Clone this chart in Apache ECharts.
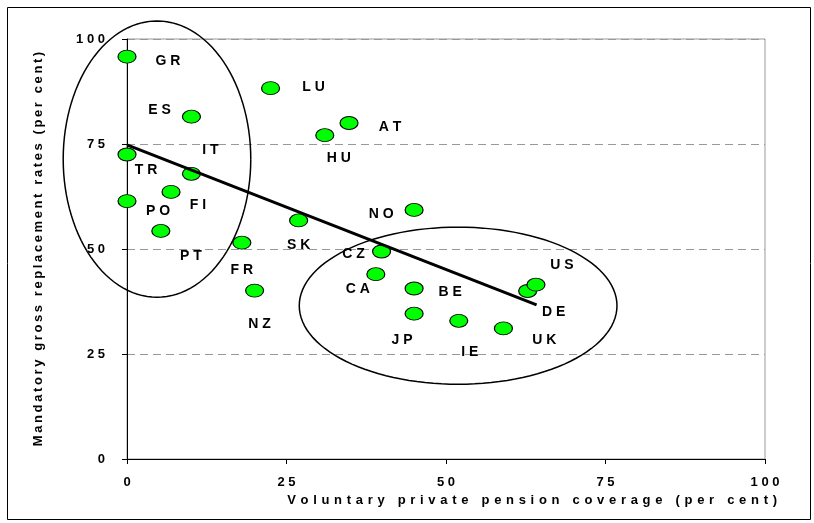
<!DOCTYPE html>
<html>
<head>
<meta charset="utf-8">
<script src="https://cdn.jsdelivr.net/npm/echarts@6/dist/echarts.min.js"></script>
<style>
  html, body { margin: 0; padding: 0; background: #fff; }
  #main { width: 814px; height: 523px; }
</style>
</head>
<body>
<div id="main"></div>
<script>
// data
const countries = ['GR', 'ES', 'LU', 'AT', 'HU', 'TR', 'IT', 'FI', 'PO', 'PT', 'SK', 'NO', 'FR', 'CZ', 'NZ', 'CA', 'BE', 'JP', 'IE', 'UK', 'DE', 'US'];
const coverage = [0, 10.1, 22.5, 34.8, 31.0, 0, 10.1, 6.9, 0, 5.3, 26.9, 45.0, 18.0, 39.9, 20.0, 39.0, 45.0, 45.0, 52.0, 59.0, 62.8, 64.1];
const replacement = [95.8, 81.5, 88.3, 80.0, 77.1, 72.5, 67.9, 63.6, 61.4, 54.3, 56.8, 59.3, 51.5, 49.4, 40.1, 44.0, 40.6, 34.6, 32.9, 31.1, 40.0, 41.5];
const trendX = [0, 64.2];
const trendY = [74.8, 36.7];
const axisTicks = [0, 25, 50, 75, 100];
// the two hand drawn groups: centre x, centre y, radius x, radius y (data units)
const groups = [[4.7, 71.4, 14.7, 32.9], [51.9, 36.5, 24.9, 18.7]];

// label offsets from the marker, px
const labelOffsets = [[41, 5], [-32, -7], [43, -1], [41, 4], [14, 23], [19, 16], [19, -24], [27, 13], [31, 10], [30, 25], [0, 25], [-33, 4], [0, 27], [-28, 3], [5, 34], [-18, 15], [36, 4], [-12, 26], [11, 31], [41, 12], [26, 21], [26, -20]];

const FONT = 'Arial, "Liberation Sans", sans-serif';
const spaced = (s) => String(s).split('').join(' ');
// wide letter spacing, as in the x axis title
const wide = (s) => String(s).split('').join(' \u200A');
// slight letter spacing, as in the y axis title
const thin = (s) => String(s).split('').join('\u2009');

const myChart = echarts.init(document.getElementById('main'), null, { renderer: 'canvas' });

const points = countries.map((c, i) => ({
  name: c,
  value: [coverage[i], replacement[i]],
  label: { offset: labelOffsets[i] },
}));

const option = {
  animation: false,
  backgroundColor: '#fff',
  grid: {
    left: 127,
    top: 39,
    right: 49,
    bottom: 64,
    show: true,
    borderColor: '#999',
    borderWidth: 1,
  },
  xAxis: {
    type: 'value',
    min: axisTicks[0],
    max: axisTicks[axisTicks.length - 1],
    interval: 25,
    axisLine: { lineStyle: { color: '#000', width: 1 } },
    axisTick: { show: true, length: 5, lineStyle: { color: '#000' } },
    splitLine: { show: false },
    axisLabel: {
      margin: 17,
      color: '#000',
      fontFamily: FONT,
      fontWeight: 'bold',
      fontSize: 13,
      formatter: (v) => spaced(v),
    },
  },
  yAxis: {
    type: 'value',
    min: axisTicks[0],
    max: axisTicks[axisTicks.length - 1],
    interval: 25,
    name: thin('Mandatory gross replacement rates (per cent)'),
    nameLocation: 'middle',
    nameRotate: 90,
    nameGap: 82,
    nameTextStyle: { color: '#000', fontFamily: FONT, fontWeight: 'bold', fontSize: 13 },
    axisLine: { lineStyle: { color: '#000', width: 1 } },
    axisTick: { show: true, length: 5, lineStyle: { color: '#000' } },
    splitLine: { show: true, lineStyle: { color: '#999', type: [8, 5], width: 1 } },
    axisLabel: {
      margin: 22,
      color: '#000',
      fontFamily: FONT,
      fontWeight: 'bold',
      fontSize: 13,
      formatter: (v) => spaced(v),
    },
  },
  graphic: [
    {
      type: 'rect',
      left: 5,
      top: 5,
      shape: { width: 803, height: 512 },
      style: { fill: 'none', stroke: '#000', lineWidth: 1 },
      silent: true,
    },
    {
      type: 'text',
      right: 37,
      top: 494,
      style: {
        text: wide('Voluntary private pension coverage (per cent)'),
        font: 'bold 13px ' + FONT,
        fill: '#000',
      },
    },
  ],
  series: [
    {
      type: 'custom',
      z: 1,
      data: groups,
      renderItem: function (params, api) {
        const c = api.coord([api.value(0), api.value(1)]);
        const s = api.size([api.value(2), api.value(3)]);
        const pts = [];
        for (let k = 0; k <= 120; k++) {
          const a = (k / 120) * Math.PI * 2;
          pts.push([c[0] + s[0] * Math.cos(a), c[1] + s[1] * Math.sin(a)]);
        }
        return {
          type: 'polyline',
          shape: { points: pts },
          style: { fill: 'none', stroke: '#000', lineWidth: 1.5 },
        };
      },
    },
    {
      type: 'scatter',
      z: 3,
      symbol: 'circle',
      symbolSize: [18, 13],
      itemStyle: { color: '#00ff00', borderColor: '#000', borderWidth: 1, opacity: 1 },
      label: {
        show: true,
        position: 'inside',
        formatter: (p) => spaced(p.name),
        color: '#000',
        fontFamily: FONT,
        fontWeight: 'bold',
        fontSize: 14,
      },
      data: points,
    },
    {
      type: 'line',
      z: 4,
      symbol: 'none',
      lineStyle: { color: '#000', width: 3 },
      data: trendX.map((x, i) => [x, trendY[i]]),
    },
  ],
};

option && myChart.setOption(option);
</script>
</body>
</html>
